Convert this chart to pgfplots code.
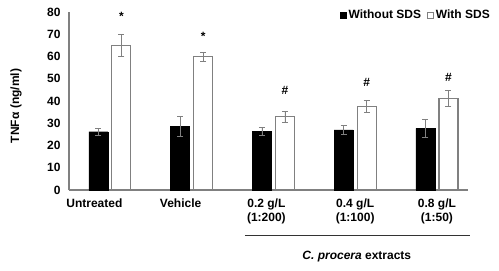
\documentclass[border=0pt]{standalone}
\usepackage{fontspec}
\setmainfont{Liberation Sans}
\usepackage{pgfplots}
\pgfplotsset{compat=1.18}
\definecolor{edge}{HTML}{808080}
\newcommand{\f}{\fontsize{12bp}{14bp}\selectfont\bfseries}
\newcommand{\hs}{\#}
\begin{document}
\begin{tikzpicture}
\begin{axis}[
  scale only axis, width=399bp, height=178bp,
  at={(0,0)}, anchor=south west,
  xmin=-0.5, xmax=4.38, ymin=0, ymax=80,
  axis x line*=bottom, axis y line*=left,
  axis line style={edge, line width=1.2bp, -},
  ytick={0,10,...,80},
  xtick={0,1,2,3,4},
  xticklabels={\hspace*{-31bp}Untreated, \hspace*{-22bp}Vehicle, \hspace*{-14bp}0.2 g/L\\\hspace*{-14bp}(1:200), 0.4 g/L\\(1:100), 0.8 g/L\\(1:50)},
  major tick length=0pt,
  tick label style={font=\f},
  /pgf/number format/assume math mode=true,
  xticklabel style={align=center, yshift=-5bp},
  yticklabel style={xshift=-5bp},
  ylabel={TNFα (ng/ml)},
  ylabel style={font=\f, at={(axis description cs:-0.133,0.472)}, anchor=center},
  clip=false,
  legend columns=2,
  legend cell align=left,
  legend style={draw=none, fill=none, at={(rel axis cs:1.06,1.022)}, anchor=north east, font=\f, inner sep=0pt,
    /tikz/every even column/.append style={column sep=4bp}},
]
\addplot[ybar, bar width=19bp, bar shift=-11.5bp, fill=black, draw=black,
  legend image code/.code={\fill[black] (0bp,-3bp) rectangle (6bp,3bp);},
  error bars/.cd, y dir=both, y explicit,
  error bar style={edge, line width=0.8bp, xshift=-11.5bp},
  error mark options={rotate=90, edge, mark size=3bp, line width=0.8bp}]
  coordinates {(0,26.2) +- (0,1.5) (1,28.5) +- (0,4.4) (2,26.5) +- (0,1.8) (3,27.0) +- (0,1.9) (4,27.7) +- (0,4.1)};
\addlegendentry{Without SDS}
\addplot[ybar, bar width=19bp, bar shift=11.5bp, fill=white, draw=edge, line width=1.2bp,
  legend image code/.code={\draw[edge, line width=0.8bp, fill=white] (0bp,-3bp) rectangle (6bp,3bp);},
  error bars/.cd, y dir=both, y explicit,
  error bar style={edge, line width=0.8bp, xshift=11.5bp},
  error mark options={rotate=90, edge, mark size=3bp, line width=0.8bp}]
  coordinates {(0,65.0) +- (0,4.8) (1,59.9) +- (0,2.0) (2,32.9) +- (0,2.3) (3,37.4) +- (0,2.7) (4,41.0) +- (0,3.6)};
\addlegendentry{With SDS}
\addplot[forget plot, draw=none, mark=none, nodes near coords={\pgfplotspointmeta}, point meta=explicit symbolic,
  nodes near coords align={center}, every node near coord/.append style={xshift=11.5bp, font=\f, text=black}]
  coordinates {(0,77.9)[*] (1,68.9)[*] (2,44.9)[\hs] (3,48.2)[\hs] (4,50.7)[\hs]};
\draw[black!80, line width=0.8bp] (axis cs:1.651,-20.2) -- (axis cs:4.40,-20.2);
\node[font=\f] at (axis cs:3.02,-29.7) {\textit{C. procera} extracts};
\end{axis}
\pgfresetboundingbox
\useasboundingbox (-69bp,-81bp) rectangle (430bp,190bp);
\end{tikzpicture}
\end{document}
